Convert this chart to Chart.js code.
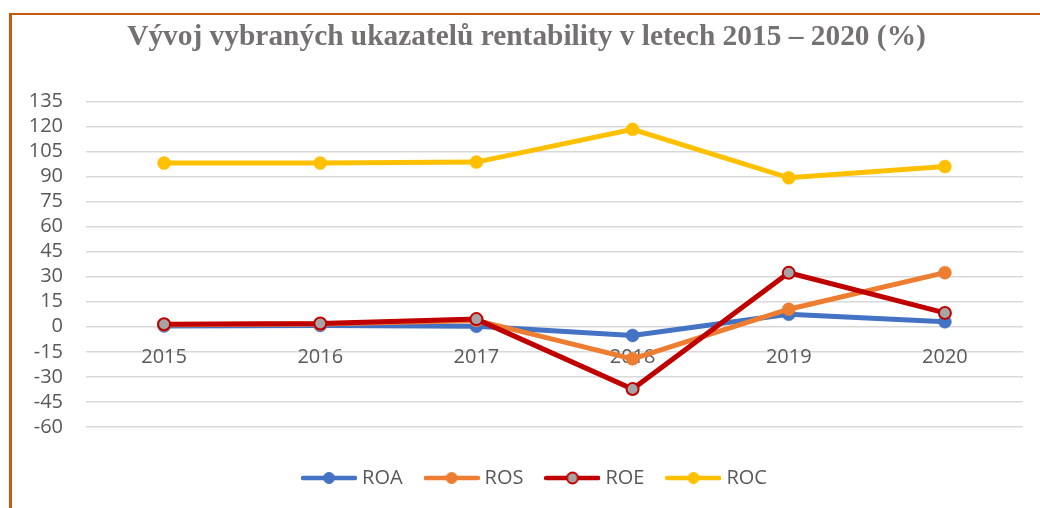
<!DOCTYPE html>
<html><head><meta charset="utf-8">
<script src="https://cdn.jsdelivr.net/npm/chart.js@4/dist/chart.umd.min.js"></script>
<style>
html,body{margin:0;padding:0;background:#fff;overflow:hidden;}
#wrap{position:relative;width:1040px;height:508px;overflow:hidden;}
#frame{position:absolute;left:9px;top:13px;width:1100px;height:600px;border-top:2px solid #c55a11;border-left:3px solid #c55a11;pointer-events:none;}
</style></head>
<body>
<div id="wrap"><canvas id="c" width="1040" height="508"></canvas><div id="frame"></div></div>
<script>
const years = ['2015', '2016', '2017', '2018', '2019', '2020'];
const roa = [0.5, 0.8, 0.3, -5.2, 7.5, 3.0];
const ros = [1.2, 1.6, 3.8, -19.2, 10.5, 32.4];
const roe = [1.5, 2.0, 4.6, -37.3, 32.3, 8.3];
const roc = [98, 98, 98.6, 118.2, 89.2, 95.9];
const seriesNames = ['ROA', 'ROS', 'ROE', 'ROC'];
const yMin = -60, yMax = 135, yStep = 15;

const colors = ['#4472c4', '#ed7d31', '#c00000', '#ffc000'];
const pointFills = ['#4472c4', '#ed7d31', '#a5a5a5', '#ffc000'];

function legendIcon(color, fill, bw) {
  const c = document.createElement('canvas');
  c.width = 56; c.height = 16;
  const g = c.getContext('2d');
  g.strokeStyle = color; g.lineWidth = 4.5; g.lineCap = 'round';
  g.beginPath(); g.moveTo(2, 8); g.lineTo(54, 8); g.stroke();
  g.beginPath(); g.arc(28, 8, 5.5, 0, Math.PI * 2);
  g.fillStyle = fill; g.fill();
  g.lineWidth = bw; g.stroke();
  return c;
}

const seriesData = [roa, ros, roe, roc];
const datasets = seriesNames.map((n, i) => ({
  label: n,
  data: seriesData[i],
  xAxisID: 'x',
  yAxisID: 'y',
  borderColor: colors[i],
  backgroundColor: pointFills[i],
  borderWidth: 5,
  pointRadius: i === 2 ? 6 : 6.5,
  pointHoverRadius: i === 2 ? 6 : 6.5,
  pointBorderWidth: i === 2 ? 2 : 0.5,
  pointBorderColor: colors[i],
  pointBackgroundColor: pointFills[i],
  tension: 0,
  order: 4 - i
}));

const tickFont = {family: "'Open Sans', 'DejaVu Sans', sans-serif", size: 20};

const nudge = {
  id: 'nudge',
  afterLayout(chart) {
    chart.scales.y.left = 0;
    chart.legend.left += 10;
    chart.legend.right += 10;
  }
};

new Chart(document.getElementById('c'), {
  type: 'line',
  data: {labels: years, datasets},
  plugins: [nudge],
  options: {
    responsive: false,
    animation: false,
    layout: {padding: {left: 30, right: 17, top: 0, bottom: 10}},
    plugins: {
      tooltip: {enabled: false},
      title: {
        display: true,
        text: 'Vývoj vybraných ukazatelů rentability v letech 2015 – 2020 (%)',
        color: '#767171',
        font: {family: "'Liberation Serif', 'Times New Roman', serif", size: 29.4, weight: 'bold', lineHeight: 1.2},
        padding: {top: 20, bottom: 46}
      },
      legend: {
        position: 'bottom',
        labels: {
          usePointStyle: true,
          pointStyleWidth: 46,
          padding: 26,
          color: '#595959',
          font: tickFont,
          generateLabels: (chart) => chart.data.datasets.map((ds, i) => ({
            text: ds.label,
            fillStyle: pointFills[i],
            strokeStyle: colors[i],
            lineWidth: 0,
            pointStyle: legendIcon(colors[i], pointFills[i], i === 2 ? 2 : 1),
            hidden: false,
            datasetIndex: i,
            fontColor: '#595959'
          }))
        }
      }
    },
    scales: {
      x: {
        type: 'category',
        offset: true,
        position: {y: 0},
        grid: {display: false, drawTicks: false},
        border: {display: false},
        ticks: {color: '#595959', font: tickFont, padding: 19, maxRotation: 0, autoSkip: false}
      },
      xSpacer: {
        type: 'category',
        labels: years,
        offset: true,
        position: 'bottom',
        grid: {display: false, drawTicks: false},
        border: {display: false},
        ticks: {display: false},
        afterFit: (s) => { s.height = 15; }
      },
      y: {
        min: yMin, max: yMax,
        grid: {color: '#d9d9d9', lineWidth: 1.5, drawTicks: false},
        border: {display: false},
        ticks: {stepSize: yStep, color: '#595959', font: tickFont, padding: 23, autoSkip: false},
        afterFit: (s) => { s.width = 56; }
      }
    }
  }
});
</script>
</body></html>
